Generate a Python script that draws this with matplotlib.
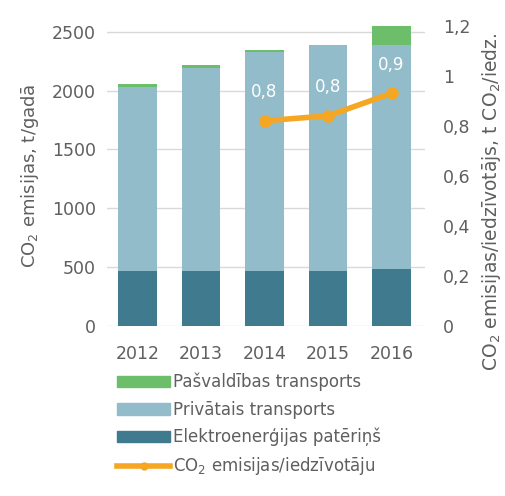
import numpy as np
import matplotlib.pyplot as plt
from matplotlib.lines import Line2D
from matplotlib.patches import Patch

plt.rcParams['font.family'] = ['DejaVu Sans']

years = ['2012', '2013', '2014', '2015', '2016']
elektro = [468, 468, 468, 468, 482]
privatais = [1560, 1720, 1860, 1915, 1905]
pasvaldibas = [30, 30, 20, 8, 165]
line_years = [2, 3, 4]  # index of 2014..2016
per_capita = [0.82, 0.84, 0.93]
per_capita_labels = ['0,8', '0,8', '0,9']

c_dark = '#3f7a8e'
c_light = '#93bccb'
c_green = '#6cbe6b'
c_orange = '#f5a623'
c_text = '#5f5f5f'

fig = plt.figure(figsize=(5.05, 4.96), dpi=100)
ax = fig.add_axes([0.212, 0.343, 0.63, 0.605])
x = np.arange(len(years))
w = 0.61
ax.bar(x, elektro, w, color=c_dark, zorder=2)
ax.bar(x, privatais, w, bottom=elektro, color=c_light, zorder=2)
bottom2 = np.array(elektro) + np.array(privatais)
ax.bar(x, pasvaldibas, w, bottom=bottom2, color=c_green, zorder=2)

ax.set_ylim(0, 2550)
ax.set_yticks([0, 500, 1000, 1500, 2000, 2500])
ax.set_xlim(-0.48, 4.53)
ax.set_xticks(x)
ax.set_xticklabels(years)
ax.grid(axis='y', color='#d9d9d9', linewidth=1, zorder=0)
for s in ax.spines.values():
    s.set_visible(False)
ax.tick_params(length=0, labelsize=12.5, colors=c_text, pad=8)
ax.tick_params(axis='x', pad=14)
ax.set_ylabel('CO$_2$ emisijas, t/gadā', fontsize=13, color=c_text, labelpad=8)

ax2 = ax.twinx()
ax2.set_ylim(0, 1.2)
ax2.set_yticks([0, 0.2, 0.4, 0.6, 0.8, 1.0, 1.2])
ax2.set_yticklabels(['0', '0,2', '0,4', '0,6', '0,8', '1', '1,2'])
for s in ax2.spines.values():
    s.set_visible(False)
ax2.tick_params(length=0, labelsize=12.5, colors=c_text, pad=13)
lx = x[line_years]
ax2.plot(lx, per_capita, color=c_orange, linewidth=4, marker='o', markersize=8, zorder=3)
for xi, v, t in zip(lx, per_capita, per_capita_labels):
    ax2.text(xi, v + 0.115, t, ha='center', va='center', color='white', fontsize=12)

fig.text(0.974, 0.593, 'CO$_2$ emisijas/iedzīvotājs, t CO$_2$/iedz.', rotation=90,
         ha='center', va='center', fontsize=13.5, color=c_text)

handles = [Patch(color=c_green), Patch(color=c_light), Patch(color=c_dark),
           Line2D([0], [0], color=c_orange, linewidth=4, marker='o', markersize=5)]
labels = ['Pašvaldības transports', 'Privātais transports',
          'Elektroenerģijas patēriņš', 'CO$_2$ emisijas/iedzīvotāju']
fig.legend(handles, labels, loc='upper left', bbox_to_anchor=(0.215, 0.265),
           frameon=False, fontsize=12, labelcolor=c_text, handlelength=3.2,
           handleheight=0.7, handletextpad=0.15, labelspacing=0.55, borderpad=0)

fig.savefig('out.png', dpi=100)
